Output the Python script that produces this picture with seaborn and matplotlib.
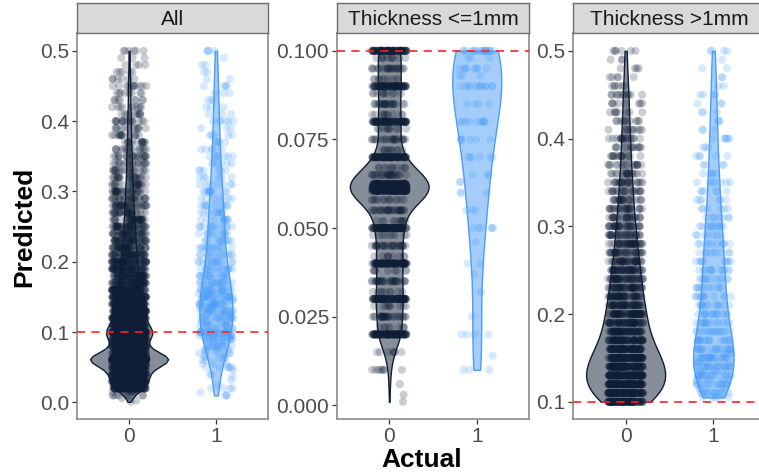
import numpy as np
import pandas as pd
import matplotlib
matplotlib.use("Agg")
import matplotlib.pyplot as plt
import seaborn as sns

sns.set_theme(style="white")
plt.rcParams['font.family'] = ['Liberation Sans', 'DejaVu Sans']

# ---------------- data ----------------
panels = ["All", "Thickness <=1mm", "Thickness >1mm"]
actual_levels = ["0", "1"]

# Thickness <=1mm, Actual = 0
thin0_levels = [0.001, 0.003, 0.006, 0.010, 0.015, 0.020, 0.022, 0.025, 0.028,
                0.030, 0.032, 0.035, 0.038, 0.040, 0.042, 0.045, 0.048, 0.050,
                0.052, 0.055, 0.058, 0.0605, 0.061, 0.0615, 0.062, 0.0625,
                0.065, 0.067, 0.070, 0.072, 0.075, 0.078, 0.080, 0.082, 0.085,
                0.088, 0.090, 0.092, 0.095, 0.098, 0.100]
thin0_counts = [1, 1, 1, 8, 7, 95, 9, 28, 9,
                95, 9, 28, 9, 92, 9, 26, 9, 100,
                11, 28, 14, 84, 84, 98, 84, 70,
                25, 11, 80, 10, 22, 10, 75, 10, 22,
                10, 75, 10, 22, 10, 95]

# Thickness <=1mm, Actual = 1
thin1_levels = [0.010, 0.014, 0.020, 0.025, 0.032, 0.037, 0.040, 0.046, 0.050,
                0.055, 0.060, 0.063, 0.065, 0.070, 0.075, 0.080, 0.085, 0.090,
                0.093, 0.095, 0.098, 0.100]
thin1_counts = [3, 1, 4, 1, 1, 1, 2, 1, 6,
                3, 3, 2, 3, 6, 6, 10, 4, 12,
                3, 8, 3, 20]

# Thickness >1mm, Actual = 0
thick0_levels = [0.10, 0.11, 0.12, 0.13, 0.14, 0.15, 0.16, 0.17, 0.18, 0.19,
                 0.20, 0.21, 0.22, 0.23, 0.24, 0.25, 0.26, 0.27, 0.28, 0.29,
                 0.30, 0.31, 0.32, 0.33, 0.34, 0.35, 0.36, 0.37, 0.38, 0.39,
                 0.40, 0.41, 0.42, 0.43, 0.44, 0.45, 0.46, 0.47, 0.48, 0.49, 0.50]
thick0_counts = [108, 110, 118, 122, 117, 103, 84, 69, 63, 58,
                 63, 50, 48, 45, 42, 44, 35, 31, 35, 27,
                 30, 23, 23, 20, 19, 21, 16, 14, 14, 12,
                 16, 10, 10, 8, 8, 11, 6, 5, 4, 3, 6]

# Thickness >1mm, Actual = 1
thick1_levels = [0.105, 0.11, 0.115, 0.12, 0.125, 0.13, 0.135, 0.14, 0.145, 0.15,
                 0.155, 0.16, 0.17, 0.18, 0.19, 0.20, 0.21, 0.22, 0.23, 0.24,
                 0.25, 0.26, 0.27, 0.28, 0.29, 0.30, 0.31, 0.32, 0.33, 0.34,
                 0.35, 0.36, 0.37, 0.38, 0.39, 0.40, 0.41, 0.42, 0.43, 0.44,
                 0.45, 0.46, 0.47, 0.48, 0.49, 0.50]
thick1_counts = [5, 12, 5, 14, 6, 16, 6, 18, 6, 20,
                 6, 18, 17, 15, 14, 14, 12, 12, 11, 11,
                 12, 10, 9, 10, 7, 11, 7, 6, 6, 6,
                 7, 5, 4, 5, 3, 6, 3, 3, 3, 3,
                 4, 2, 2, 2, 1, 4]

threshold = 0.1

y_ticks = {
    "All": [0.0, 0.1, 0.2, 0.3, 0.4, 0.5],
    "Thickness <=1mm": [0.000, 0.025, 0.050, 0.075, 0.100],
    "Thickness >1mm": [0.1, 0.2, 0.3, 0.4, 0.5],
}
y_ticklabels = {
    "All": ["0.0", "0.1", "0.2", "0.3", "0.4", "0.5"],
    "Thickness <=1mm": ["0.000", "0.025", "0.050", "0.075", "0.100"],
    "Thickness >1mm": ["0.1", "0.2", "0.3", "0.4", "0.5"],
}

# ---------------- build table ----------------
def expand(levels, counts, actual, group):
    vals = np.repeat(np.array(levels, dtype=float), counts)
    return pd.DataFrame({"Predicted": vals, "Actual": actual, "Group": group})

thin = pd.concat([expand(thin0_levels, thin0_counts, "0", "thin"),
                  expand(thin1_levels, thin1_counts, "1", "thin")])
thick = pd.concat([expand(thick0_levels, thick0_counts, "0", "thick"),
                   expand(thick1_levels, thick1_counts, "1", "thick")])
panel_data = {
    "All": pd.concat([thin, thick], ignore_index=True),
    "Thickness <=1mm": thin.reset_index(drop=True),
    "Thickness >1mm": thick.reset_index(drop=True),
}

# ---------------- style ----------------
navy = "#0f1e36"
blue = "#4a9df8"
palette = {"0": navy, "1": blue}
# maximum violin width (in category units) per panel and class
violin_width = {
    "All": {"0": 0.9, "1": 0.38},
    "Thickness <=1mm": {"0": 0.9, "1": 0.56},
    "Thickness >1mm": {"0": 0.9, "1": 0.46},
}
bw_adjust = {
    "All": {"0": 0.6, "1": 1.0},
    "Thickness <=1mm": {"0": 1.0, "1": 1.3},
    "Thickness >1mm": {"0": 1.0, "1": 1.0},
}


def nrd0_factor(kde):
    # R's default bandwidth (bw.nrd0) expressed as a gaussian_kde factor
    x = np.asarray(kde.dataset).ravel()
    sd = x.std(ddof=1)
    q75, q25 = np.percentile(x, [75, 25])
    lo = min(sd, (q75 - q25) / 1.34) if q75 > q25 else sd
    return 0.9 * lo * len(x) ** (-0.2) / sd


# ---------------- layout ----------------
W, H = 759, 473
fig = plt.figure(figsize=(W / 100, H / 100), dpi=100)

panel_x = [(77, 268), (336.7, 529.3), (573, 766)]
panel_top, panel_bottom = 33.3, 419.3
strip_top = 3.5
border_col = "#8c8c8c"

np.random.seed(3)

for name, (x0, x1) in zip(panels, panel_x):
    ax = fig.add_axes([x0 / W, 1 - panel_bottom / H, (x1 - x0) / W, (panel_bottom - panel_top) / H])
    d = panel_data[name]
    for lev in actual_levels:
        n_before = len(ax.collections)
        sns.violinplot(data=d[d["Actual"] == lev], x="Actual", y="Predicted",
                       order=actual_levels, color=palette[lev], cut=0, inner=None,
                       density_norm="width", width=violin_width[name][lev],
                       bw_method=nrd0_factor, bw_adjust=bw_adjust[name][lev],
                       saturation=1, linewidth=1.0, ax=ax)
        c = matplotlib.colors.to_rgb(palette[lev])
        for coll in ax.collections[n_before:]:
            coll.set_facecolor((*c, 0.5))
            coll.set_edgecolor(c)
            coll.set_linewidth(1.0)
    sns.stripplot(data=d, x="Actual", y="Predicted", hue="Actual", order=actual_levels,
                  hue_order=actual_levels, palette=palette, jitter=0.2, size=5.8,
                  alpha=0.22, linewidth=0, legend=False, ax=ax, zorder=3)
    ax.axhline(threshold, color="#ff2020", lw=1.3, ls=(0, (4.5, 3.5)), alpha=0.9, zorder=5)

    lo, hi = d["Predicted"].min(), d["Predicted"].max()
    rng = hi - lo
    ax.set_ylim(lo - 0.05 * rng, hi + 0.05 * rng)
    ax.set_xlim(-0.6, 1.6)
    ax.set_yticks(y_ticks[name])
    ax.set_yticklabels(y_ticklabels[name])
    ax.set_xticks([0, 1])
    ax.set_xticklabels(actual_levels)
    ax.set_xlabel("")
    ax.set_ylabel("")
    ax.tick_params(axis="both", which="both", length=3.5, width=0.9, color="#333333",
                   labelsize=15, labelcolor="#4d4d4d", pad=2, direction="out",
                   bottom=True, left=True)
    for sp in ax.spines.values():
        sp.set_color(border_col)
        sp.set_linewidth(1.2)
    ax.set_facecolor("white")

    sax = fig.add_axes([x0 / W, 1 - panel_top / H, (x1 - x0) / W, (panel_top - strip_top) / H])
    sax.set_facecolor("#d9d9d9")
    sax.set_xticks([])
    sax.set_yticks([])
    for sp in sax.spines.values():
        sp.set_color("#6e6e6e")
        sp.set_linewidth(1.0)
    sax.text(0.5, 0.45, name, ha="center", va="center", fontsize=15, color="#1a1a1a",
             transform=sax.transAxes)

fig.text(421.5 / W, 1 - 460 / H, "Actual", ha="center", va="center", fontsize=19,
         fontweight="bold", color="black")
fig.text(24 / W, 1 - 227 / H, "Predicted", ha="center", va="center", fontsize=19,
         fontweight="bold", color="black", rotation=90)

fig.savefig("out.png", dpi=100, facecolor="white")
